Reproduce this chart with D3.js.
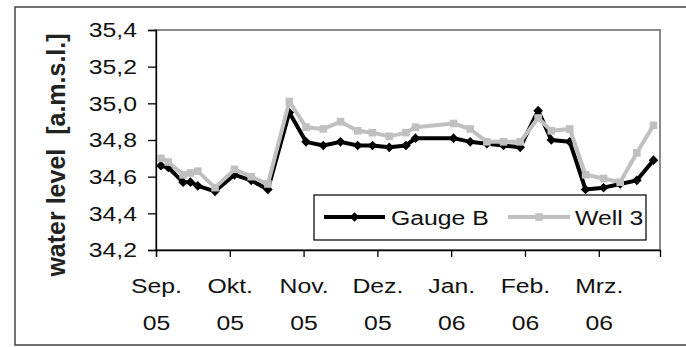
<!DOCTYPE html>
<html>
<head>
<meta charset="utf-8">
<script src="https://cdn.jsdelivr.net/npm/d3@7"></script>
<style>
  body { margin: 0; background: #fff; }
  text { font-family: "Liberation Sans", Arial, sans-serif; }
</style>
</head>
<body>
<div id="chart"></div>
<script>
// weekly readings, Sep 05 - Mar 06
var dates = ["2005-09-03", "2005-09-06", "2005-09-12", "2005-09-15", "2005-09-18", "2005-09-25",
  "2005-10-03", "2005-10-10", "2005-10-17", "2005-10-26", "2005-11-02", "2005-11-09",
  "2005-11-16", "2005-11-23", "2005-11-29", "2005-12-06", "2005-12-13", "2005-12-17",
  "2006-01-02", "2006-01-09", "2006-01-16", "2006-01-23", "2006-01-30", "2006-02-06",
  "2006-02-11", "2006-02-18", "2006-02-24", "2006-03-03", "2006-03-10", "2006-03-17", "2006-03-24"];

var gaugeB = [34.66, 34.65, 34.57, 34.57, 34.55, 34.52,
  34.61, 34.58, 34.53, 34.95, 34.79, 34.77,
  34.79, 34.77, 34.77, 34.76, 34.77, 34.81,
  34.81, 34.79, 34.78, 34.77, 34.76, 34.96,
  34.80, 34.79, 34.53, 34.54, 34.56, 34.58, 34.69];

var well3 = [34.70, 34.68, 34.61, 34.62, 34.63, 34.54,
  34.64, 34.60, 34.56, 35.01, 34.87, 34.86,
  34.90, 34.85, 34.84, 34.82, 34.84, 34.87,
  34.89, 34.86, 34.79, 34.79, 34.79, 34.92,
  34.85, 34.86, 34.61, 34.59, 34.57, 34.73, 34.88];

var monthLabels = ["Sep.", "Okt.", "Nov.", "Dez.", "Jan.", "Feb.", "Mrz."];
var yearLabels = ["05", "05", "05", "05", "06", "06", "06"];
var yTicks = [34.2, 34.4, 34.6, 34.8, 35.0, 35.2, 35.4];

var svgWidth = 686;
var svgHeight = 347;
var margin = { top: 30, right: 26, bottom: 97, left: 156 };
var width = svgWidth - margin.left - margin.right;
var height = svgHeight - margin.top - margin.bottom;
var sx = 1.18; // text in the picture is a bit wide

var svg = d3.select("#chart").append("svg")
  .attr("width", svgWidth)
  .attr("height", svgHeight);

// outer frame
svg.append("rect")
  .attr("x", 15).attr("y", 7)
  .attr("width", 690).attr("height", 338)
  .attr("fill", "none").attr("stroke", "#444").attr("stroke-width", 1.5);

var chartGroup = svg.append("g")
  .attr("transform", `translate(${margin.left}, ${margin.top})`);

// months are equally spaced on the axis; position = month index + fraction of month
var parseDate = d3.timeParse("%Y-%m-%d");
function monthPos(s) {
  var d = parseDate(s);
  var m = (d.getFullYear() - 2005) * 12 + d.getMonth() - 8;
  var days = new Date(d.getFullYear(), d.getMonth() + 1, 0).getDate();
  return m + (d.getDate() - 1) / days;
}

var xScale = d3.scaleLinear().domain([0, 6.83]).range([0, width]);
var yScale = d3.scaleLinear().domain([34.2, 35.4]).range([height, 0]);

// plot frame (top / right in grey)
chartGroup.append("rect")
  .attr("width", width).attr("height", height)
  .attr("fill", "none").attr("stroke", "#8a8a8a").attr("stroke-width", 2);

var commaFmt = function(v) { return d3.format(".1f")(v).replace(".", ","); };

var leftAxis = d3.axisLeft(yScale).tickValues(yTicks).tickSize(8).tickPadding(11).tickFormat(commaFmt);
var yAxisG = chartGroup.append("g").call(leftAxis);
yAxisG.select(".domain").attr("stroke", "#000").attr("stroke-width", 1.3);
yAxisG.selectAll("line").attr("stroke", "#000").attr("stroke-width", 1.3);
yAxisG.selectAll("text")
  .attr("font-size", "21px").attr("fill", "#111")
  .attr("x", -19 / sx)
  .attr("transform", `scale(${sx},1)`);

var bottomAxis = d3.axisBottom(xScale).tickValues(d3.range(monthLabels.length)).tickSize(7).tickFormat("");
var xAxisG = chartGroup.append("g")
  .attr("transform", `translate(0, ${height})`)
  .call(bottomAxis);
xAxisG.select(".domain").attr("stroke", "#000").attr("stroke-width", 1.3);
xAxisG.selectAll("line").attr("stroke", "#000").attr("stroke-width", 1.3);
xAxisG.selectAll(".tick").each(function(d, i) {
  var t = d3.select(this);
  t.append("text").attr("y", 43).attr("text-anchor", "middle")
    .attr("font-size", "21px").attr("fill", "#111")
    .attr("transform", `scale(${sx},1)`).text(monthLabels[i]);
  t.append("text").attr("y", 80).attr("text-anchor", "middle")
    .attr("font-size", "21px").attr("fill", "#111")
    .attr("transform", `scale(${sx},1)`).text(yearLabels[i]);
});

// series
var series = [
  { name: "Gauge B", values: gaugeB, color: "#000", shape: "diamond" },
  { name: "Well 3", values: well3, color: "#c0c0c0", shape: "square" }
];

var line = d3.line()
  .x(d => xScale(d.x))
  .y(d => yScale(d.y));

function marker(sel, shape, color) {
  if (shape === "diamond") {
    sel.append("path")
      .attr("d", d3.symbol().type(d3.symbolSquare).size(46)())
      .attr("transform", function(d) { return `translate(${xScale(d.x)},${yScale(d.y)}) rotate(45)`; })
      .attr("fill", color);
  } else {
    sel.append("path")
      .attr("d", d3.symbol().type(d3.symbolSquare).size(58)())
      .attr("transform", function(d) { return `translate(${xScale(d.x)},${yScale(d.y)})`; })
      .attr("fill", color);
  }
}

series.forEach(function(s) {
  var pts = dates.map(function(dt, i) { return { x: monthPos(dt), y: s.values[i] }; });
  chartGroup.append("path")
    .datum(pts)
    .attr("d", line)
    .attr("fill", "none")
    .attr("stroke", s.color)
    .attr("stroke-width", 4)
    .attr("stroke-linejoin", "round");
  var g = chartGroup.append("g").selectAll("g").data(pts).enter().append("g");
  marker(g, s.shape, s.color);
});

// legend
var legend = svg.append("g");
legend.append("rect")
  .attr("x", 314).attr("y", 195).attr("width", 332).attr("height", 45)
  .attr("fill", "#fff").attr("stroke", "#111").attr("stroke-width", 1.3);

var legendItems = [
  { s: series[0], x1: 324, x2: 385, tx: 391 },
  { s: series[1], x1: 508, x2: 570, tx: 575 }
];
legendItems.forEach(function(it) {
  legend.append("line")
    .attr("x1", it.x1).attr("x2", it.x2).attr("y1", 217).attr("y2", 217)
    .attr("stroke", it.s.color).attr("stroke-width", 4);
  var mg = legend.append("g").datum({ x: xScale.invert((it.x1 + it.x2) / 2 - margin.left), y: yScale.invert(217 - margin.top) });
  mg.attr("transform", `translate(${margin.left},${margin.top})`);
  marker(mg, it.s.shape, it.s.color);
  legend.append("text")
    .attr("transform", `translate(${it.tx},225) scale(${sx},1)`)
    .attr("font-size", "21px").attr("fill", "#111")
    .text(it.s.name);
});

// y axis title
svg.append("text")
  .attr("transform", "translate(65,155) rotate(-90)")
  .attr("text-anchor", "middle")
  .attr("font-size", "25px")
  .attr("font-weight", "bold")
  .attr("fill", "#222")
  .style("white-space", "pre")
  .text("water level  [a.m.s.l.]");
</script>
</body>
</html>
